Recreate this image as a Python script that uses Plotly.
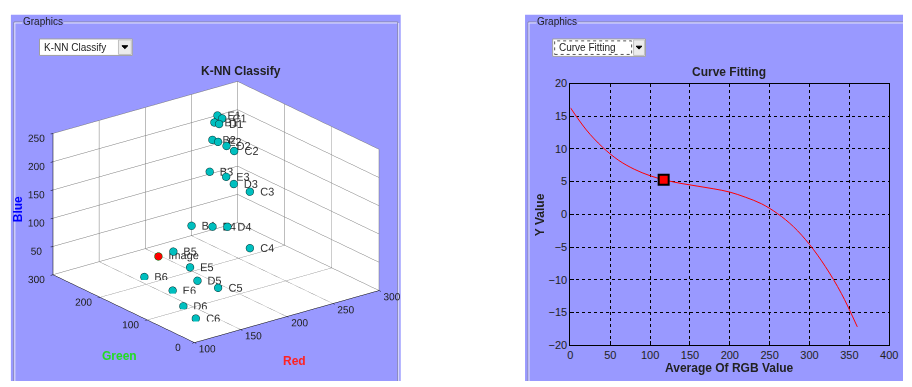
import plotly.graph_objects as go

W, H = 912, 387

# ---- 3D K-NN data (Red, Green, Blue) ----
knn_labels = ["B1", "C1", "D1", "E1",
              "B2", "C2", "D2", "E2",
              "B3", "C3", "D3", "E3",
              "B4", "C4", "D4", "E4",
              "B5", "C5", "D5", "E5",
              "B6", "C6", "D6", "E6"]
knn_red = [234, 245, 235, 246,
           240, 239, 241, 241,
           233, 232, 232, 237,
           200, 208, 223, 213,
           191, 170, 166, 180,
           156, 132, 141, 156]
knn_green = [220, 225, 212, 237,
             236, 188, 208, 226,
             228, 141, 175, 201,
             202, 94, 171, 183,
             223, 87, 123, 166,
             216, 60, 104, 156]
knn_blue = [240, 240, 240, 240,
            200, 200, 200, 200,
            150, 150, 150, 150,
            80, 80, 80, 80,
            30, 30, 30, 30,
            4, 4, 4, 4]
image_label = ["Image"]
image_red = [182]
image_green = [237]
image_blue = [20]

# ---- Curve fitting data ----
curve_x = [0, 20, 40, 60, 80, 100, 120, 140, 160, 180, 200, 220, 240, 260, 280, 300, 320, 340, 360]
curve_y = [16.3, 12.9, 10.3, 8.3, 6.9, 5.9, 5.2, 4.7, 4.3, 3.9, 3.4, 2.6, 1.6, 0.1, -1.9, -4.6, -8.0, -12.1, -17.2]
point_x = [117]
point_y = [5.3]


def px(x):
    return x / W


def py(y):
    return 1 - y / H


FONT = "Liberation Sans, Arial, sans-serif"
PANEL = "#9999FF"

fig = go.Figure()

fig.add_trace(go.Scatter3d(
    x=knn_red, y=knn_green, z=knn_blue, text=knn_labels,
    mode="markers+text", textposition="middle right",
    textfont=dict(size=11, color="#333333", family=FONT),
    marker=dict(size=4.5, color="#00BFBF", line=dict(color="#003333", width=1)),
    showlegend=False, scene="scene"))
fig.add_trace(go.Scatter3d(
    x=image_red, y=image_green, z=image_blue, text=image_label,
    mode="markers+text", textposition="middle right",
    textfont=dict(size=11, color="#333333", family=FONT),
    marker=dict(size=4.5, color="red", line=dict(color="#006600", width=1)),
    showlegend=False, scene="scene"))

fig.add_trace(go.Scatter(x=curve_x, y=curve_y, mode="lines", line=dict(color="red", width=1, shape="spline"),
                         showlegend=False, xaxis="x", yaxis="y"))
fig.add_trace(go.Scatter(x=point_x, y=point_y, mode="markers",
                         marker=dict(symbol="square", size=10, color="red", line=dict(color="black", width=2)),
                         showlegend=False, xaxis="x", yaxis="y"))

ax3 = dict(showbackground=True, backgroundcolor="white", gridcolor="#7a7a7a", gridwidth=1,
           showline=True, linecolor="black", linewidth=1, zeroline=False, showspikes=False,
           tickfont=dict(size=11, color="#222222", family=FONT), title=dict(text=""),
           ticks="outside", ticklen=3, tickcolor="black", tickangle=0)

eye_r = 2.0
fig.update_layout(
    width=W, height=H, margin=dict(l=0, r=0, t=0, b=0),
    paper_bgcolor="white", plot_bgcolor="white",
    font=dict(family=FONT, size=11, color="#222222"),
    scene=dict(
        domain=dict(x=[0, px(431.6)], y=[py(382.5), py(43.5)]),
        bgcolor="rgba(0,0,0,0)",
        xaxis=dict(ax3, range=[100, 300], dtick=50),
        yaxis=dict(ax3, range=[0, 300], dtick=100),
        zaxis=dict(ax3, range=[0, 250], dtick=50),
        aspectmode="manual", aspectratio=dict(x=1.418, y=1.418, z=0.926),
        camera=dict(eye=dict(x=-0.566 * eye_r, y=-0.738 * eye_r, z=0.368 * eye_r),
                    up=dict(x=0, y=0, z=1), center=dict(x=0, y=0, z=0),
                    projection=dict(type="orthographic")),
    ),
    xaxis=dict(domain=[px(575), px(898)], range=[0, 400], dtick=50, showgrid=True, gridcolor="black",
               griddash="dot", gridwidth=1, showline=True, mirror=True, linecolor="black", linewidth=1,
               ticks="inside", ticklen=4, tickcolor="black", zeroline=False,
               tickfont=dict(size=11, color="#222222"), anchor="y", fixedrange=True),
    yaxis=dict(domain=[py(350), py(80)], range=[-20, 20], dtick=5, showgrid=True, gridcolor="black",
               griddash="dot", gridwidth=1, showline=True, mirror=True, linecolor="black", linewidth=1,
               ticks="inside", ticklen=4, tickcolor="black", zeroline=False,
               tickfont=dict(size=11, color="#222222"), anchor="x", fixedrange=True),
)

shapes = []
# panels
for x0, x1 in [(8, 403), (529, 912)]:
    shapes.append(dict(type="rect", xref="paper", yref="paper", x0=px(x0), x1=px(x1), y0=py(387), y1=py(9),
                       fillcolor=PANEL, line=dict(width=0), layer="below"))
# group box etched lines
for (x0, x1) in [(11, 400), (532, 912)]:
    shapes.append(dict(type="line", xref="paper", yref="paper", x0=px(x0), x1=px(x1), y0=py(16.5), y1=py(16.5),
                       line=dict(color="#8888aa", width=1), layer="below"))
    shapes.append(dict(type="line", xref="paper", yref="paper", x0=px(x0), x1=px(x1), y0=py(17.5), y1=py(17.5),
                       line=dict(color="#e8e8ff", width=1), layer="below"))
for xv in [11, 400, 532]:
    shapes.append(dict(type="line", xref="paper", yref="paper", x0=px(xv), x1=px(xv), y0=py(16.5), y1=py(387),
                       line=dict(color="#8888aa", width=1), layer="below"))
    shapes.append(dict(type="line", xref="paper", yref="paper", x0=px(xv + 1), x1=px(xv + 1), y0=py(17.5), y1=py(387),
                       line=dict(color="#e8e8ff", width=1), layer="below"))
# dropdowns
for (x0, x1, y0, y1, bx0) in [(37, 131, 34, 51, 117), (557, 651, 34, 52, 639)]:
    shapes.append(dict(type="rect", xref="paper", yref="paper", x0=px(x0), x1=px(x1), y0=py(y1), y1=py(y0),
                       fillcolor="white", line=dict(color="#a0a0a0", width=1), layer="below"))
    shapes.append(dict(type="rect", xref="paper", yref="paper", x0=px(bx0), x1=px(x1 - 1), y0=py(y1 - 1), y1=py(y0 + 1),
                       fillcolor="#ececec", line=dict(color="#c0c0c0", width=1), layer="below"))
    cx = (bx0 + x1 - 1) / 2
    cy = (y0 + y1) / 2
    shapes.append(dict(type="path", xref="paper", yref="paper",
                       path=f"M {px(cx-3)} {py(cy-1.5)} L {px(cx+3)} {py(cy-1.5)} L {px(cx)} {py(cy+1.5)} Z",
                       fillcolor="black", line=dict(color="black", width=1), layer="below"))
shapes.append(dict(type="rect", xref="paper", yref="paper", x0=px(559), x1=px(637), y0=py(50), y1=py(36),
                   line=dict(color="#555555", width=1, dash="dot"), layer="below"))
fig.update_layout(shapes=shapes)

ann = []


def text(x, y, s, size=11, color="#222222", bold=False, angle=0, xanchor="center", bg=None):
    d = dict(x=px(x), y=py(y), xref="paper", yref="paper", text=(f"<b>{s}</b>" if bold else s),
             showarrow=False, font=dict(size=size, color=color, family=FONT), textangle=angle,
             xanchor=xanchor, yanchor="middle")
    if bg:
        d["bgcolor"] = bg
        d["borderpad"] = 0
    ann.append(d)


text(19, 16, "Graphics", size=10, xanchor="left", bg=PANEL)
text(540, 16, "Graphics", size=10, xanchor="left", bg=PANEL)
text(40, 43, "K-NN Classify", size=10, xanchor="left")
text(561, 43, "Curve Fitting", size=10, xanchor="left")
text(241, 67, "K-NN Classify", size=12, bold=True)
text(16, 210, "Blue", size=12, bold=True, color="#0000FF", angle=-90)
text(118, 361, "Green", size=12, bold=True, color="#22DD22")
text(295, 366, "Red", size=12, bold=True, color="#FF2222")
text(736, 68, "Curve Fitting", size=12, bold=True)
text(736, 374, "Average Of RGB Value", size=12, bold=True)
text(545, 215, "Y Value", size=12, bold=True, angle=-90)
fig.update_layout(annotations=ann)

fig.write_html("out.html", config={"displayModeBar": False},
               post_script="document.documentElement.style.margin='0';document.body.style.margin='0';"
                           "document.body.style.overflow='hidden';document.documentElement.style.overflow='hidden';")
